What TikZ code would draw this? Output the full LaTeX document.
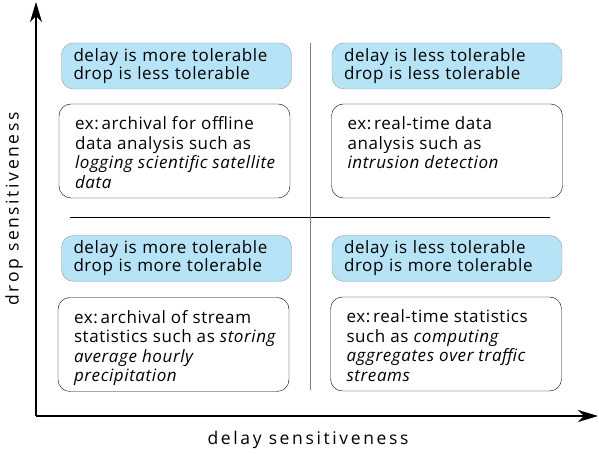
\documentclass[tikz,border=0pt]{standalone}
\usepackage{fontspec}
\setmainfont{Open Sans}
\usetikzlibrary{arrows.meta}
\definecolor{tolblue}{RGB}{182,228,246}
\tikzset{
  tol/.style={draw=gray!80, fill=tolblue, rounded corners=12pt, minimum width=230pt, minimum height=46pt,
    inner xsep=12pt, text width=206pt, align=left,
    font=\fontsize{17}{16.5}\selectfont\addfontfeatures{LetterSpace=3.5}},
  ex/.style={draw, rounded corners=12pt, minimum width=231pt, inner xsep=16pt, inner ysep=12pt,
    font=\fontsize{17}{19.5}\selectfont\addfontfeatures{LetterSpace=3.5}},
  axis/.style={line width=1.2pt, -{Stealth[length=20pt,width=12pt,inset=6pt]}},
  axislabel/.style={font=\fontsize{17.5}{20}\selectfont\addfontfeatures{LetterSpace=15}}
}
\newcommand{\extext}[1]{\parbox[t][70pt][t]{199pt}{\begin{tabular}[t]{@{}l@{}}#1\end{tabular}}}
\begin{document}
\begin{tikzpicture}[x=1pt,y=1pt]
\useasboundingbox (0,0) rectangle (599,454);
% axes
\coordinate (o) at (36,38);
\coordinate (ytop) at (36,452);
\coordinate (xend) at (598,38);
\draw[axis] (o) -- (ytop);
\draw[axis] (o) -- (xend);
\node[axislabel, rotate=90] (droplabel) at (14,245) {drop sensitiveness};
\node[axislabel] (delaylabel) at (308,14) {delay sensitiveness};
% quadrant dividers
\draw[line width=0.8pt] (70,237) -- (550,237);
\draw[gray, line width=0.6pt] (310,411) -- (310,64);
% top row
\node[tol] (tl) at (176.5,388) {delay is more tolerable\\drop is less tolerable};
\node[tol] (tr) at (447,388) {delay is less tolerable\\drop is less tolerable};
\node[ex] (tlex) at (174.5,303) {\extext{ex:\,archival for offline\\data analysis such as\\\textit{logging scientific satellite}\\\textit{data}}};
\node[ex] (trex) at (447,303) {\extext{ex:\,real-time data\\analysis such as\\\textit{intrusion detection}}};
% bottom row
\node[tol] (bl) at (176.5,195.5) {delay is more tolerable\\drop is more tolerable};
\node[tol] (br) at (447,195.5) {delay is less tolerable\\drop is more tolerable};
\node[ex] (blex) at (173.5,109.5) {\extext{ex:\,archival of stream\\statistics such as \textit{storing}\\\textit{average hourly}\\\textit{precipitation}}};
\node[ex] (brex) at (446,110) {\extext{ex:\,real-time statistics\\such as \textit{computing}\\\textit{aggregates over traffic}\\\textit{streams}}};
\end{tikzpicture}
\end{document}
